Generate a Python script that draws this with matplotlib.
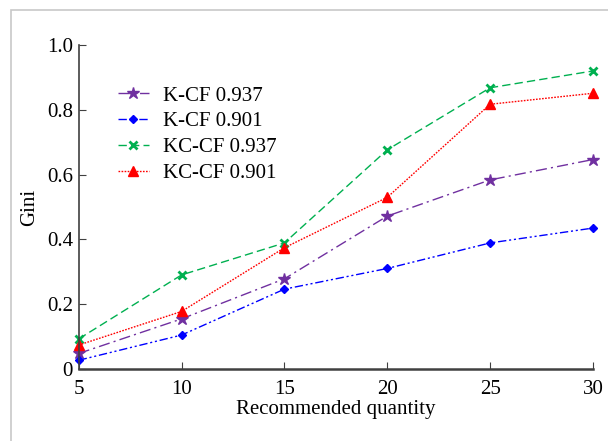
import matplotlib
matplotlib.use("Agg")
import matplotlib.pyplot as plt
from matplotlib.patches import Rectangle

plt.rcParams['font.family'] = ['Liberation Serif', 'DejaVu Serif']

quantity = [5, 10, 15, 20, 25, 30]
k_cf_937 = [0.047, 0.154, 0.278, 0.472, 0.584, 0.647]
k_cf_901 = [0.026, 0.104, 0.246, 0.310, 0.389, 0.435]
kc_cf_937 = [0.092, 0.290, 0.389, 0.677, 0.869, 0.921]
kc_cf_901 = [0.073, 0.177, 0.374, 0.530, 0.818, 0.852]
labels = ["K-CF 0.937", "K-CF 0.901", "KC-CF 0.937", "KC-CF 0.901"]

fig = plt.figure(figsize=(6.08, 4.41), dpi=100)
# light grey frame around the picture
fig.patches.append(Rectangle((11/608, -0.1), 1.2, 1 - 10/441 + 0.1,
                             transform=fig.transFigure, fill=False,
                             edgecolor="#c8c8c8", lw=1.2))

ax = fig.add_axes([0.1294, 0.164, 0.9753 - 0.1294, 0.897 - 0.164])

ax.plot(quantity, k_cf_937, color="#7030A0", ls=(0, (8, 3, 1.5, 3)), lw=1,
        marker="*", ms=9, label=labels[0], clip_on=False)
ax.plot(quantity, k_cf_901, color="#0000FF", ls=(0, (6, 2, 1.5, 2, 1.5, 2)), lw=1,
        marker="D", ms=4.5, label=labels[1], clip_on=False)
ax.plot(quantity, kc_cf_937, color="#00B050", ls=(0, (6, 3)), lw=1,
        marker="x", ms=6, mew=2, label=labels[2], clip_on=False)
ax.plot(quantity, kc_cf_901, color="#FF0000", ls=(0, (1.2, 1)), lw=1,
        marker="^", ms=6.5, label=labels[3], clip_on=False)

ax.set_xlim(5, 30)
ax.set_ylim(0, 1.0)
ax.set_xticks(quantity)
ax.set_yticks([0, 0.2, 0.4, 0.6, 0.8, 1.0])
ax.set_yticklabels(["0", "0.2", "0.4", "0.6", "0.8", "1.0"])
ax.tick_params(direction="in", labelsize=15, length=5, color="#404040")
ax.tick_params(axis="x", pad=8)
ax.tick_params(axis="y", pad=4)

for s in ["top", "right"]:
    ax.spines[s].set_visible(False)
ax.spines["left"].set_color("#404040")
ax.spines["bottom"].set_color("#404040")
ax.spines["bottom"].set_linewidth(1.8)
ax.spines["left"].set_linewidth(1.2)

ax.set_xlabel("Recommended quantity", fontsize=15, labelpad=1)
ax.set_ylabel("Gini", fontsize=15, labelpad=6)

ax.legend(loc="upper left", bbox_to_anchor=(0.06, 0.9), frameon=False,
          fontsize=15, handlelength=1.5, handletextpad=0.65, labelspacing=0.3,
          borderaxespad=0)

fig.savefig("out.png", dpi=100)
